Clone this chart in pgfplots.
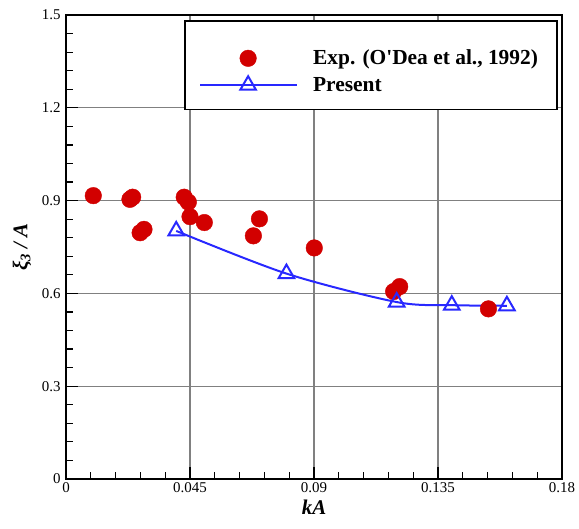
\documentclass[border=0pt]{standalone}
\usepackage{fontspec}
\setmainfont{Liberation Serif}
\usepackage{pgfplots}
\pgfplotsset{compat=1.18}
\definecolor{expred}{RGB}{210,0,0}
\definecolor{lineblue}{RGB}{40,40,255}

\begin{document}
\begin{tikzpicture}
\begin{axis}[
  name=ax,
  scale only axis,
  width=496bp, height=464bp,
  xmin=0, xmax=0.18, ymin=0, ymax=1.5,
  xtick={0,0.045,0.09,0.135,0.18},
  xticklabels={0,0.045,0.09,0.135,0.18},
  ytick={0,0.3,0.6,0.9,1.2,1.5},
  yticklabels={0,0.3,0.6,0.9,1.2,1.5},
  minor x tick num=4, minor y tick num=4,
  tick align=inside, tick pos=left,
  major tick length=12bp, minor tick length=7bp,
  every tick/.style={black, line width=1.2bp},
  grid=major,
  major grid style={black!50, line width=1.3bp},
  axis line style={line width=1.8bp},
  tick label style={font=\fontsize{15}{18}\selectfont},
  yticklabel style={xshift=-2bp},
  xlabel={\textbf{\textit{kA}}},
  ylabel={\textbf{\textit{ξ\textsubscript{3} / A}}},
  label style={font=\fontsize{21}{25}\selectfont},
  xlabel style={at={(axis description cs:0.5,-0.06)}, anchor=center},
  ylabel style={at={(axis description cs:-0.089,0.5)}, anchor=center},
  legend image code/.code={\draw[mark repeat=2,mark phase=2]
    plot coordinates {(0bp,0bp) (48bp,0bp) (97bp,0bp)};},
  legend style={at={(axis description cs:0.268,0.929)}, anchor=north west,
    draw=none, fill=none, inner sep=0pt,
    font=\fontsize{21.5}{25}\selectfont\bfseries,
    cells={anchor=west}, row sep=7bp, column sep=13bp},
]
  % legend frame
  \draw[black, line width=1.2bp, fill=white]
    (axis description cs:0.2399,0.797) rectangle (axis description cs:0.9899,0.987);

  % experiment
  \addplot[only marks, mark=*, mark size=8.3bp,
    mark options={draw=expred, fill=expred}]
    coordinates {
      (0.0099,0.916) (0.0232,0.904) (0.0242,0.911)
      (0.0269,0.796) (0.0283,0.807) (0.0429,0.911)
      (0.0444,0.895) (0.0450,0.848) (0.0502,0.829)
      (0.0680,0.786) (0.0702,0.841) (0.0901,0.747)
      (0.1189,0.606) (0.1211,0.622) (0.1533,0.550)
    };

  % present
  \addplot[lineblue, line width=2bp, smooth, mark=triangle, mark size=9bp,
    mark options={solid, fill=white, line width=2bp}]
    coordinates {
      (0.04,0.802) (0.08,0.664) (0.12,0.572) (0.14,0.562) (0.16,0.560)
    };

  \legend{{Exp. (O\textquotesingle Dea et al., 1992)}, Present}
\end{axis}
\pgfresetboundingbox
\useasboundingbox ([xshift=-66bp,yshift=-50bp]ax.south west)
  rectangle ([xshift=17bp,yshift=15bp]ax.north east);
\end{tikzpicture}
\end{document}
